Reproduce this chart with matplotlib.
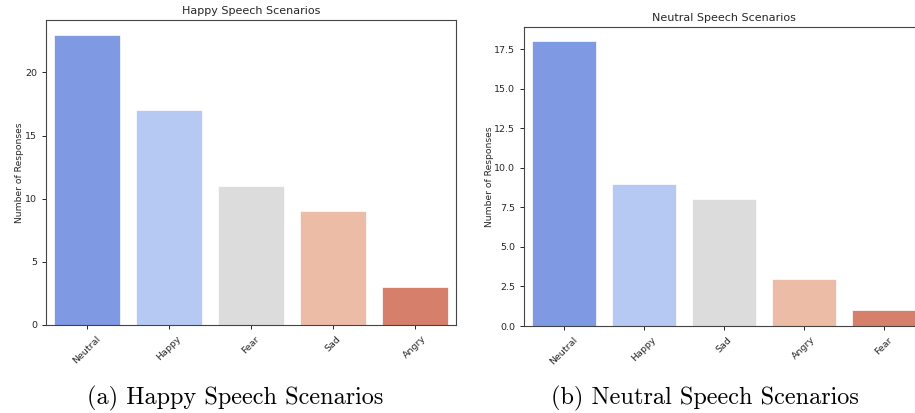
import matplotlib
matplotlib.use("Agg")
import matplotlib.pyplot as plt

happy_categories = ["Neutral", "Happy", "Fear", "Sad", "Angry"]
happy_counts = [23, 17, 11, 9, 3]
neutral_categories = ["Neutral", "Happy", "Sad", "Angry", "Fear"]
neutral_counts = [18, 9, 8, 3, 1]
titles = ["Happy Speech Scenarios", "Neutral Speech Scenarios"]
captions = ["(a) Happy Speech Scenarios", "(b) Neutral Speech Scenarios"]

palette = ["#7f99e2", "#b5c9f3", "#dcdcdc", "#ecbca6", "#d6806c"]

W, H = 915, 413
fig = plt.figure(figsize=(W / 100, H / 100), dpi=100)

def add_ax(x0, y0, x1, y1):
    return fig.add_axes([x0 / W, 1 - y1 / H, (x1 - x0) / W, (y1 - y0) / H])

ax1 = add_ax(46, 20, 456, 325)
ax2 = add_ax(524, 27, 924, 326)

for ax, cats, vals, title in [(ax1, happy_categories, happy_counts, titles[0]),
                              (ax2, neutral_categories, neutral_counts, titles[1])]:
    x = list(range(len(cats)))
    ax.bar(x, vals, width=0.8, color=palette, edgecolor="white", linewidth=0.5)
    ax.set_xlim(-0.5, len(cats) - 0.5)
    ax.set_ylim(0, max(vals) * 1.05)
    ax.set_xticks(x)
    ax.set_xticklabels(cats, rotation=45, fontsize=6.8, color="#262626")
    ax.tick_params(axis="y", labelsize=6.8, labelcolor="#262626", length=3, width=0.6)
    ax.tick_params(axis="x", length=3, width=0.6)
    ax.set_ylabel("Number of Responses", fontsize=6.6, color="#262626")
    ax.set_title(title, fontsize=8, color="#262626", pad=4)
    for s in ax.spines.values():
        s.set_color("#444444")
        s.set_linewidth(0.8)

ax1.yaxis.set_label_coords(-0.054, 0.5)
ax2.yaxis.set_label_coords(-0.075, 0.5)

ax2.set_yticks([0, 2.5, 5.0, 7.5, 10.0, 12.5, 15.0, 17.5])
ax2.set_yticklabels(["0.0", "2.5", "5.0", "7.5", "10.0", "12.5", "15.0", "17.5"])

fig.text(235 / W, 1 - 398 / H, captions[0], family="cmr10", fontsize=17.5,
         ha="center", va="center", color="#000000")
fig.text(705 / W, 1 - 398 / H, captions[1], family="cmr10", fontsize=17.5,
         ha="center", va="center", color="#000000")

fig.savefig("out.png", dpi=100)
